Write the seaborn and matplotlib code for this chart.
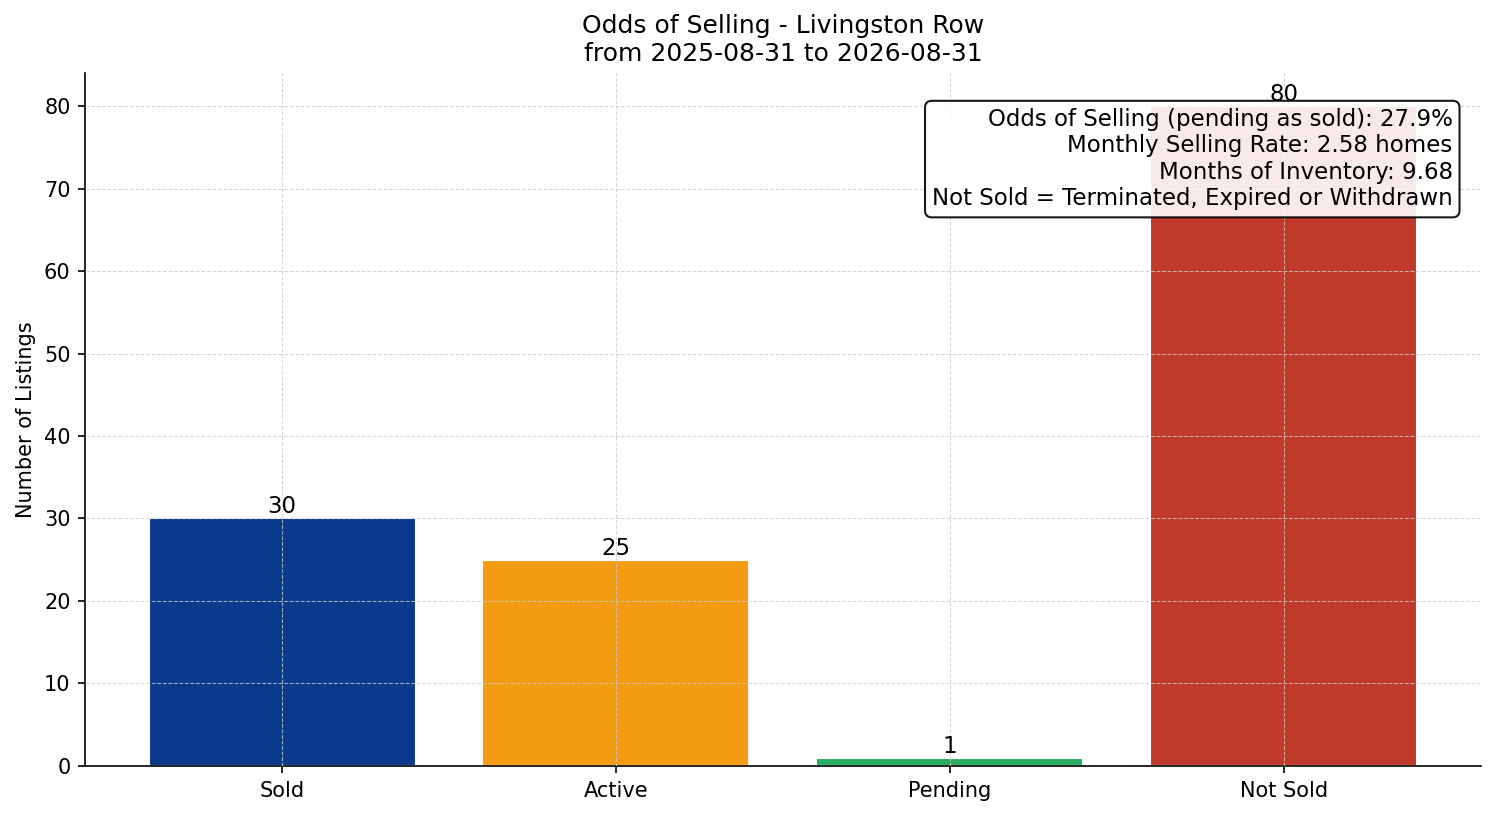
import pandas as pd
import matplotlib
matplotlib.use("Agg")
import matplotlib.pyplot as plt
import seaborn as sns

# -------------------------------
# Data
# -------------------------------
categories = ["Sold", "Active", "Pending", "Not Sold"]
counts = [30, 25, 1, 80]
bar_colors = ["#0b3a8c", "#f39c12", "#27ae60", "#c0392b"]

odds_pct = 27.9
monthly_rate = 2.58
months_inventory = 9.68

df = pd.DataFrame({"status": categories, "count": counts})

# -------------------------------
# Plot
# -------------------------------
sns.set_style("ticks")
plt.rcParams['font.family'] = ['DejaVu Sans']
for key in ["text.color", "axes.labelcolor", "xtick.color", "ytick.color", "axes.edgecolor"]:
    plt.rcParams[key] = "black"

fig, ax = plt.subplots(figsize=(9.96, 5.44), dpi=150)
fig.subplots_adjust(left=0.057, right=0.991, top=0.9105, bottom=0.0613)

sns.barplot(data=df, x="status", y="count", hue="status", palette=bar_colors,
            saturation=1, width=0.8, legend=False, ax=ax)

for i, v in enumerate(counts):
    ax.text(i, v, str(v), ha="center", va="bottom", fontsize=11)

ax.set_xlim(-0.59, len(categories) - 1 + 0.59)
ax.set_ylim(0, max(counts) * 1.05)
ax.set_xlabel("")
ax.set_ylabel("Number of Listings")
ax.set_title("Odds of Selling - Livingston Row\nfrom 2025-08-31 to 2026-08-31", fontsize=12)
ax.grid(True, linestyle="--", linewidth=0.5, color="#cccccc", alpha=0.8)
ax.set_axisbelow(False)
sns.despine(ax=ax)

info = (f"Odds of Selling (pending as sold): {odds_pct}%\n"
        f"Monthly Selling Rate: {monthly_rate} homes\n"
        f"Months of Inventory: {months_inventory}\n"
        "Not Sold = Terminated, Expired or Withdrawn")
ax.text(0.98, 0.95, info, transform=ax.transAxes, ha="right", va="top", fontsize=11,
        bbox=dict(boxstyle="round,pad=0.3", facecolor="white", edgecolor="black", alpha=0.9))

plt.savefig("out.png", dpi=150)
